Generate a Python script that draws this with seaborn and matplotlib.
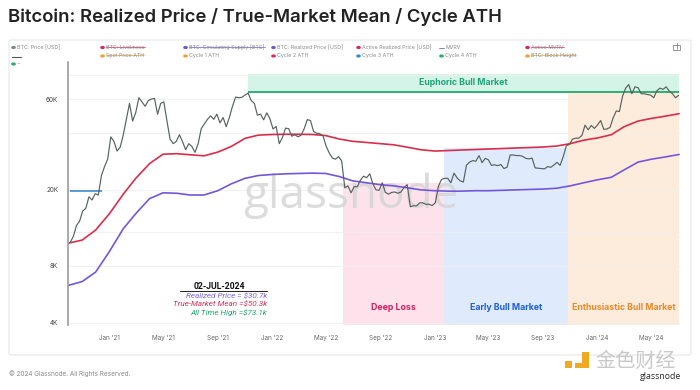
import numpy as np
import pandas as pd
import matplotlib
matplotlib.use("Agg")
import matplotlib.pyplot as plt
import matplotlib.dates as mdates
import matplotlib.ticker as mticker
from matplotlib.patches import FancyBboxPatch, Rectangle
from matplotlib.lines import Line2D
import seaborn as sns

# ---------------- data ----------------
price_start = "2020-10-05"          # weekly closes, BTC price [USD]
btc_price = [
    # 2020 Oct - Dec
    10600, 11400, 13000, 13700, 15500, 16000, 18400, 17700, 19100, 18800, 23800, 26500, 29000,
    # 2021
    38000, 36000, 32000, 33500, 38900, 47000, 57000, 46000, 51000, 61000, 58000, 55000, 58900,
    60000, 60500, 50000, 57000, 58000, 46000, 37000, 35000, 36000, 39000, 35800, 32500, 35000,
    33800, 31500, 35000, 42000, 44500, 47000, 49000, 47000, 50000, 45000, 48000, 43000, 48000,
    55000, 61500, 61000, 61300, 63000, 64500, 59000, 57000, 49400, 50000, 46700, 50800, 47300,
    # 2022
    41800, 43100, 35000, 37700, 42200, 42000, 38300, 39000, 38000, 38800, 42000, 46800, 46300,
    40500, 39700, 39500, 38500, 34000, 31300, 29400, 29000, 29900, 28400, 20500, 21000, 19300,
    20800, 20800, 22500, 23600, 23200, 24300, 21500, 20000, 19900, 21800, 19400, 19000, 19400,
    19500, 19200, 19500, 20600, 21300, 16300, 16500, 16500, 17100, 17100, 16800, 16800, 16550,
    # 2023
    17100, 20900, 22700, 23000, 23000, 21800, 24500, 23100, 22300, 22000, 27000, 28000, 28500,
    28300, 30300, 27800, 29300, 28800, 26900, 27100, 26800, 27200, 25900, 26300, 30500, 30500,
    30300, 30300, 30000, 29300, 29100, 29400, 26100, 26000, 25900, 25800, 26500, 26300, 27000,
    27900, 26900, 29900, 34100, 34700, 37000, 37400, 37400, 38700, 43800, 41400, 43600, 42100,
    # 2024 Jan - Jul
    43900, 46300, 41600, 41800, 42600, 47800, 52000, 51600, 62000, 68500, 71500, 64000, 69600,
    68900, 64000, 64000, 63400, 63000, 61000, 66300, 68500, 67500, 69600, 66000, 64100, 61000,
    62800,
]

monthly_start = "2020-10-01"        # monthly values, first of month
realized_price = [
    6300, 6600, 7400,
    9500, 12500, 15000, 18000, 19300, 19200, 18800, 18800, 19800, 21500, 23000, 23800,
    24100, 24300, 24400, 24500, 24400, 23500, 22300, 21800, 21300, 21000, 20500, 20000,
    19800, 19700, 19700, 19800, 19800, 19900, 20000, 20100, 20200, 20400, 21000, 21800,
    22600, 23300, 25500, 28000, 29000, 29800, 30700,
]
true_market_mean = [
    10500, 10900, 12300,
    15000, 19000, 23000, 27500, 30800, 31000, 30600, 30200, 31600, 33800, 37300, 38800,
    39100, 39200, 39200, 39100, 38600, 37000, 36000, 35500, 35000, 34500, 33500, 32500,
    32000, 32200, 32400, 32600, 32800, 33000, 33200, 33400, 33600, 34000, 35000, 36500,
    37500, 39000, 43000, 46000, 47500, 48800, 50300,
]

cycle3_ath = 19800
cycle3_ath_span = ["2020-10-05", "2020-12-16"]
cycle4_ath = 65000
cycle4_ath_span = ["2021-11-08", "2024-07-02"]

band_names = ["Euphoric Bull Market", "Deep Loss", "Early Bull Market", "Enthusiastic Bull Market"]
band_starts = ["2021-11-08", "2022-06-10", "2023-01-22", "2023-10-26"]
band_ends = ["2024-07-02", "2023-01-22", "2023-10-26", "2024-07-02"]
band_bottoms = [65000, 3900, 3900, 3900]
band_tops = [81000, 21800, 33300, 65000]
band_fills = ["#d4f4e7", "#fde2eb", "#dfeafc", "#fdebdc"]
band_text_colors = ["#1fa47a", "#d21f5f", "#1d5fd6", "#e68a2c"]

y_ticks = [4000, 8000, 20000, 60000]
y_tick_labels = ["4K", "8K", "20K", "60K"]
y_minor = [12000, 40000, 80000]

annot_date = "02-JUL-2024"
annot_lines = ["Realized Price = $30.7k", "True-Market Mean =$50.3k", "All Time High =$73.1k"]
annot_colors = ["#7b68e0", "#d8345c", "#21a86c"]

legend_rows = [
    [("BTC: Price [USD]", "#7d8a84", False, "o"),
     ("BTC: Liveliness", "#e0245e", True, "o"),
     ("BTC: Circulating Supply [BTC]", "#6b5bd6", True, "o"),
     ("BTC: Realized Price [USD]", "#6b5bd6", False, "o"),
     ("Active Realized Price [USD]", "#e0245e", False, "o"),
     ("MVRV", "#8a7ad8", False, "-"),
     ("Active MVRV", "#e0245e", True, "o")],
    [("", "#555555", False, "line"),
     ("Spot Price ATH", "#f0a030", True, "o"),
     ("Cycle 1 ATH", "#f0a030", False, "o"),
     ("Cycle 2 ATH", "#e0245e", False, "o"),
     ("Cycle 3 ATH", "#2d8ae0", False, "o"),
     ("Cycle 4 ATH", "#27ae60", False, "o"),
     ("BTC: Block Height", "#f0a030", True, "o")],
    [("--", "#27ae60", False, "o")],
]

# ---------------- figure ----------------
sns.set_theme(style="white")
plt.rcParams["font.family"] = ["Inter", "DejaVu Sans"]

W, H = 700, 390
fig = plt.figure(figsize=(7, 3.9), dpi=100)
fig.patch.set_facecolor("white")


def fx(x):
    return x / W


def fy(y):
    return 1 - y / H


# card (drawn beneath the axes)
card = FancyBboxPatch((fx(9), fy(355)), fx(682), 315 / H,
                      boxstyle="round,pad=0,rounding_size=0.004",
                      transform=fig.transFigure, facecolor="white",
                      edgecolor="#e6e6e6", lw=0.8, zorder=-5)
fig.patches.append(card)

fig.text(fx(8), fy(17), "Bitcoin: Realized Price / True-Market Mean / Cycle ATH",
         fontsize=13.3, fontweight="semibold", color="#222222", va="center", ha="left")

ax = fig.add_axes([fx(68), fy(325), 612 / W, 263 / H])
ax.set_facecolor("none")
ax.set_zorder(1)
ax.set_yscale("log")

dates_w = pd.date_range(price_start, periods=len(btc_price), freq="7D")
dates_m = pd.date_range(monthly_start, periods=len(realized_price), freq="MS")
# last monthly point is the chart date
dates_m = dates_m[:-1].append(pd.DatetimeIndex([pd.Timestamp("2024-07-02")]))
df_price = pd.DataFrame({"date": dates_w, "price": btc_price})
df_m = pd.DataFrame({"date": dates_m, "rp": realized_price, "tmm": true_market_mean})

# bands
for name, s, e, b, t, fc, tc in zip(band_names, band_starts, band_ends, band_bottoms,
                                    band_tops, band_fills, band_text_colors):
    xs = pd.to_datetime([s, e])
    ax.fill_between(xs, [b, b], [t, t], color=fc, lw=0, zorder=0.5)
    xm = xs[0] + (xs[1] - xs[0]) / 2
    if b > 4000:
        ax.text(xm, np.sqrt(b * t) * 1.01, name, ha="center", va="center", fontsize=6.3,
                fontweight="bold", color=tc, zorder=3)
    else:
        ax.text(xm, 0.065, name, ha="center", va="center", fontsize=6.3,
                fontweight="bold", color=tc, zorder=3,
                transform=ax.get_xaxis_transform())

# watermark
ax.text(0.462, 0.49, "glassnode", transform=ax.transAxes, ha="center", va="center",
        fontsize=33, color="#d6d6d6", alpha=0.85, family="Open Sans", zorder=1.5)

# lines
sns.lineplot(data=df_m, x="date", y="rp", color="#7357da", lw=1.2, ax=ax, zorder=2)
sns.lineplot(data=df_m, x="date", y="tmm", color="#d92d4c", lw=1.2, ax=ax, zorder=2)
sns.lineplot(data=df_price, x="date", y="price", color="#56625d", lw=0.85, ax=ax, zorder=2.5)
ax.hlines(cycle3_ath, pd.Timestamp(cycle3_ath_span[0]), pd.Timestamp(cycle3_ath_span[1]),
          color="#2d7fd0", lw=1.1, zorder=2.2)
ax.hlines(cycle4_ath, pd.Timestamp(cycle4_ath_span[0]), pd.Timestamp(cycle4_ath_span[1]),
          color="#1fa870", lw=1.3, zorder=2.2)

ax.set_xlim(pd.Timestamp("2020-09-30"), pd.Timestamp("2024-07-04"))
ax.set_ylim(3900, 94000)
ax.set_xlabel("")
ax.set_ylabel("")

ax.xaxis.set_major_locator(mdates.MonthLocator(bymonth=[1, 5, 9]))
ax.xaxis.set_major_formatter(mdates.DateFormatter("%b '%y"))
ax.yaxis.set_major_locator(mticker.FixedLocator(y_ticks))
ax.yaxis.set_major_formatter(mticker.FixedFormatter(y_tick_labels))
ax.yaxis.set_minor_locator(mticker.FixedLocator(y_minor))
ax.yaxis.set_minor_formatter(mticker.NullFormatter())
ax.tick_params(axis="x", length=0, labelsize=4.6, colors="#666666", pad=7)
ax.tick_params(axis="y", which="both", length=0, labelsize=4.6, colors="#444444", pad=7)
ax.grid(True, axis="y", which="both", color="#efefef", lw=0.6, zorder=0)
ax.grid(False, axis="x")
ax.set_axisbelow(True)
for sp in ["top", "right", "bottom"]:
    ax.spines[sp].set_visible(False)
ax.spines["left"].set_color("#9c9c9c")
ax.spines["left"].set_linewidth(1.2)

# annotation box
ax.text(0.248, 0.148, annot_date, transform=ax.transAxes, ha="center", va="center",
        fontsize=6.2, fontweight="bold", color="#111111", family="Roboto", zorder=4)
ax.plot([0.183, 0.325], [0.128, 0.128], transform=ax.transAxes, color="#222222", lw=0.7,
        zorder=4)
for i, (txt, col) in enumerate(zip(annot_lines, annot_colors)):
    ax.text(0.325, 0.110 - i * 0.032, txt, transform=ax.transAxes, ha="right", va="center",
            fontsize=5.9, style="italic", color=col, family="Roboto", zorder=4)

# legend (top of card)
col_x = [12, 101, 184, 272, 357, 440, 526]
row_y = [47.5, 56, 64]
renderer = fig.canvas.get_renderer()
for r, row in enumerate(legend_rows):
    for c, (lab, col, struck, mk) in enumerate(row):
        x0, y0 = col_x[c], row_y[r]
        if mk == "o":
            fig.patches.append(plt.Circle((fx(x0 + 1.5), fy(y0)), 1.6 / W,
                                          transform=fig.transFigure, color=col))
        elif mk == "-":
            fig.lines.append(Line2D([fx(x0 - 1), fx(x0 + 4)], [fy(y0), fy(y0)],
                                    transform=fig.transFigure, color=col, lw=0.7))
        else:
            fig.lines.append(Line2D([fx(x0), fx(x0 + 9)], [fy(y0 + 1), fy(y0 + 1)],
                                    transform=fig.transFigure, color=col, lw=0.8))
        if lab:
            t = fig.text(fx(x0 + 5), fy(y0), lab, fontsize=3.8, color="#8a8a8a",
                         va="center", ha="left")
            if struck:
                bb = t.get_window_extent(renderer=renderer)
                fig.lines.append(Line2D([bb.x0 / W, bb.x1 / W], [fy(y0 - 0.6), fy(y0 - 0.6)],
                                        transform=fig.transFigure, color=col, lw=0.5))

# share icon
fig.patches.append(Rectangle((fx(673), fy(50)), 7 / W, 5 / H, transform=fig.transFigure,
                             fill=False, edgecolor="#888888", lw=0.6))
fig.lines.append(Line2D([fx(676.5), fx(676.5)], [fy(49), fy(43)],
                        transform=fig.transFigure, color="#888888", lw=0.6))

# footer
fig.text(fx(9), fy(374), "© 2024 Glassnode. All Rights Reserved.", fontsize=4.6,
         color="#8a8a8a", va="center", ha="left")

# bottom-right watermark logos
fig.patches.append(Rectangle((fx(565), fy(368)), 7 / W, 7 / H, transform=fig.transFigure,
                             color="#f2a922", lw=0))
fig.patches.append(Rectangle((fx(582), fy(368)), 7 / W, 16 / H, transform=fig.transFigure,
                             color="#f2a922", lw=0))
fig.patches.append(Rectangle((fx(575), fy(368)), 14 / W, 5 / H, transform=fig.transFigure,
                             color="#f2a922", lw=0))
fig.text(fx(595), fy(361), "金色财经", fontsize=14.5, color="#c9c9c9", va="center", ha="left",
         family=["Noto Sans CJK SC", "DejaVu Sans"])
fig.text(fx(661), fy(376.5), "glassnode", fontsize=6.3, color="#2a2a2a", va="center",
         ha="center", family="Open Sans")

fig.savefig("out.png", dpi=100, facecolor="white")
